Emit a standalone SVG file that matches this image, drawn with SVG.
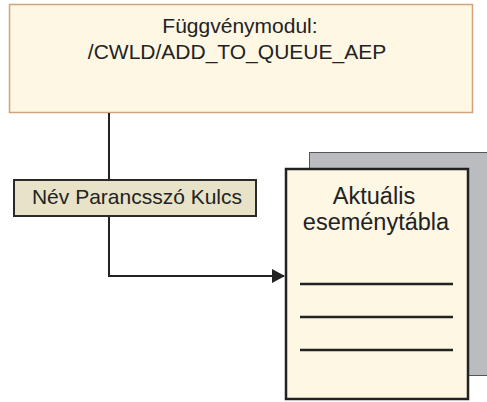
<svg xmlns="http://www.w3.org/2000/svg" width="487" height="402" viewBox="0 0 487 402">
<defs>
<style>
text{font-family:"Liberation Sans",Arial,sans-serif;fill:#222;text-anchor:middle}
.t{font-size:21px}
.d{font-size:23.5px}
.conn{fill:none;stroke:#222;stroke-width:2}
.rule{stroke:#222;stroke-width:2.5}
</style>
<marker id="arr" markerWidth="14" markerHeight="14" refX="12" refY="7" orient="auto" markerUnits="userSpaceOnUse">
<path d="M0,0 L13,7 L0,14 Z" fill="#222"/>
</marker>
</defs>
<rect width="487" height="402" fill="#fff"/>
<g id="module">
<rect x="9.5" y="4.5" width="463" height="108" fill="#fdf7e4" stroke="#d3a27c" stroke-width="1.5"/>
<text class="t" x="240" y="33">Függvénymodul:</text>
<text class="t" x="237" y="59">/CWLD/ADD_TO_QUEUE_AEP</text>
</g>
<g id="connectors">
<path class="conn" d="M109 113 V276 H284" marker-end="url(#arr)"/>
</g>
<g id="label">
<rect x="14" y="180" width="242" height="36" fill="#e8e2c8" stroke="#2a2a2a" stroke-width="2"/>
<text class="t" x="137" y="204">Név Parancsszó Kulcs</text>
</g>
<g id="table">
<rect x="309.5" y="152.5" width="180" height="223" fill="#bbbcc0" stroke="#555" stroke-width="1"/>
<rect x="286" y="169" width="182" height="230" fill="#fdf7e4" stroke="#222" stroke-width="2.5"/>
<text class="d" x="374" y="204">Aktuális</text>
<text class="d" x="376" y="230">eseménytábla</text>
<line class="rule" x1="300" y1="284" x2="453" y2="284"/>
<line class="rule" x1="300" y1="317" x2="453" y2="317"/>
<line class="rule" x1="300" y1="350" x2="453" y2="350"/>
</g>
</svg>
